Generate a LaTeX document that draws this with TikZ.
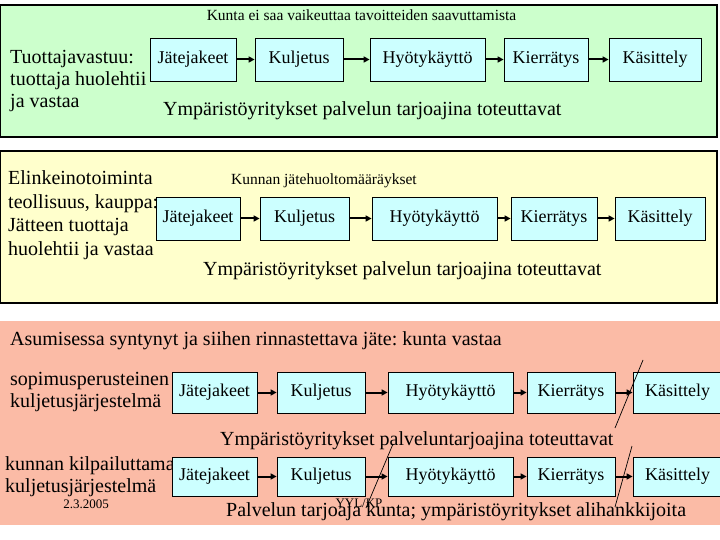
\documentclass[tikz,border=0pt]{standalone}
\usepackage{fontspec}
\setmainfont{Liberation Serif}
\usetikzlibrary{arrows.meta}
\definecolor{pgreen}{HTML}{CCFFCC}
\definecolor{pyellow}{HTML}{FFFFCC}
\definecolor{psalmon}{HTML}{FBBBA6}
\definecolor{bcyan}{HTML}{CCFFFF}
\frenchspacing
\tikzset{
  panel/.style={draw=black, line width=1.2pt},
  stepbox/.style={draw=black, fill=bcyan, line width=0.8pt, inner sep=0pt, font=\fontsize{18}{20}\selectfont},
  flow/.style={line width=2pt, -{Triangle[length=6pt,width=6pt]}},
  big/.style={font=\fontsize{20}{23}\selectfont, inner sep=0pt, anchor=west, text height=14pt, text depth=4pt},
  small/.style={font=\fontsize{15.5}{18}\selectfont, inner sep=0pt, text height=11pt, text depth=3pt},
  tiny/.style={font=\fontsize{13}{15}\selectfont, inner sep=0pt},
  slash/.style={line width=0.7pt}
}
\begin{document}
\begin{tikzpicture}[x=1pt,y=-1pt]
\useasboundingbox (0,0) rectangle (720,540);
\fill[white] (0,0) rectangle (720,540);
% panels
\filldraw[panel, fill=pgreen] (0,5) rectangle (717,137);
\filldraw[panel, fill=pyellow] (0,151) rectangle (717,303);
\fill[psalmon] (0,321) rectangle (720,525);

% ---- panel 1
\node[small] (t1) at (361.5,17) {Kunta ei saa vaikeuttaa tavoitteiden saavuttamista};
\node[big] (l1a) at (10,59) {Tuottajavastuu:};
\node[big] (l1b) at (10,81) {tuottaja huolehtii};
\node[big] (l1c) at (10,103) {ja vastaa};
\node[big] (y1) at (163,111) {Ympäristöyritykset palvelun tarjoajina toteuttavat};
\node[stepbox, minimum width=86pt, minimum height=43pt] (j1) at (193,59.5) {Jätejakeet};
\node[stepbox, minimum width=88pt, minimum height=43pt] (k1) at (299,59.5) {Kuljetus};
\node[stepbox, minimum width=115pt, minimum height=43pt] (h1) at (427.5,59.5) {Hyötykäyttö};
\node[stepbox, minimum width=84pt, minimum height=43pt] (ki1) at (546,59.5) {Kierrätys};
\node[stepbox, minimum width=92pt, minimum height=43pt] (ks1) at (655,59.5) {Käsittely};
\draw[flow] (j1) -- (k1);
\draw[flow] (k1) -- (h1);
\draw[flow] (h1) -- (ki1);
\draw[flow] (ki1) -- (ks1);

% ---- panel 2
\node[big] (l2a) at (8,180) {Elinkeinotoiminta};
\node[big] (l2b) at (8,203.5) {teollisuus, kauppa:};
\node[big] (l2c) at (8,227) {Jätteen tuottaja};
\node[big] (l2d) at (8,250.5) {huolehtii ja vastaa};
\node[small, anchor=west] (t2) at (231,181) {Kunnan jätehuoltomääräykset};
\node[big] (y2) at (203,270) {Ympäristöyritykset palvelun tarjoajina toteuttavat};
\node[stepbox, minimum width=84pt, minimum height=43pt] (j2) at (198,218.5) {Jätejakeet};
\node[stepbox, minimum width=89pt, minimum height=43pt] (k2) at (304.5,218.5) {Kuljetus};
\node[stepbox, minimum width=125pt, minimum height=43pt] (h2) at (434.5,218.5) {Hyötykäyttö};
\node[stepbox, minimum width=86pt, minimum height=43pt] (ki2) at (554,218.5) {Kierrätys};
\node[stepbox, minimum width=90pt, minimum height=43pt] (ks2) at (660,218.5) {Käsittely};
\draw[flow] (j2) -- (k2);
\draw[flow] (k2) -- (h2);
\draw[flow] (h2) -- (ki2);
\draw[flow] (ki2) -- (ks2);

% ---- panel 3
\node[big] (t3) at (10,340) {Asumisessa syntynyt ja siihen rinnastettava jäte: kunta vastaa};
\node[big] (l3a) at (10,380) {sopimusperusteinen};
\node[big] (l3b) at (10,402) {kuljetusjärjestelmä};
\node[stepbox, minimum width=85pt, minimum height=41pt] (j3) at (214.5,392.5) {Jätejakeet};
\node[stepbox, minimum width=88pt, minimum height=41pt] (k3) at (321,392.5) {Kuljetus};
\node[stepbox, minimum width=125pt, minimum height=41pt] (h3) at (450.5,392.5) {Hyötykäyttö};
\node[stepbox, minimum width=88pt, minimum height=41pt] (ki3) at (571,392.5) {Kierrätys};
\node[stepbox, minimum width=89pt, minimum height=41pt] (ks3) at (677.5,392.5) {Käsittely};
\draw[flow] (j3) -- (k3);
\draw[flow] (k3) -- (h3);
\draw[flow] (h3) -- (ki3);
\draw[flow] (ki3) -- (ks3);
\node[big] (y3) at (220,440) {Ympäristöyritykset palveluntarjoajina toteuttavat};

\node[big] (l4a) at (5,465) {kunnan kilpailuttama};
\node[big] (l4b) at (5,487) {kuljetusjärjestelmä};
\node[tiny] (date) at (86,504) {2.3.2005};
\node[stepbox, minimum width=85pt, minimum height=39pt] (j4) at (214.5,476.5) {Jätejakeet};
\node[stepbox, minimum width=88pt, minimum height=39pt] (k4) at (321,476.5) {Kuljetus};
\node[stepbox, minimum width=125pt, minimum height=39pt] (h4) at (450.5,476.5) {Hyötykäyttö};
\node[stepbox, minimum width=88pt, minimum height=39pt] (ki4) at (571,476.5) {Kierrätys};
\node[stepbox, minimum width=89pt, minimum height=39pt] (ks4) at (677.5,476.5) {Käsittely};
\draw[flow] (j4) -- (k4);
\draw[flow] (k4) -- (h4);
\draw[flow] (h4) -- (ki4);
\draw[flow] (ki4) -- (ks4);
\node[tiny] (yyl) at (359,503) {YYL/KP};
\node[big] (y4) at (226,511) {Palvelun tarjoaja kunta; ympäristöyritykset alihankkijoita};

% slash strokes
\draw[slash] (393,444) -- (366,508);
\draw[slash] (643,360) -- (615,428);
\draw[slash] (632,446) -- (615,507);
\end{tikzpicture}
\end{document}
